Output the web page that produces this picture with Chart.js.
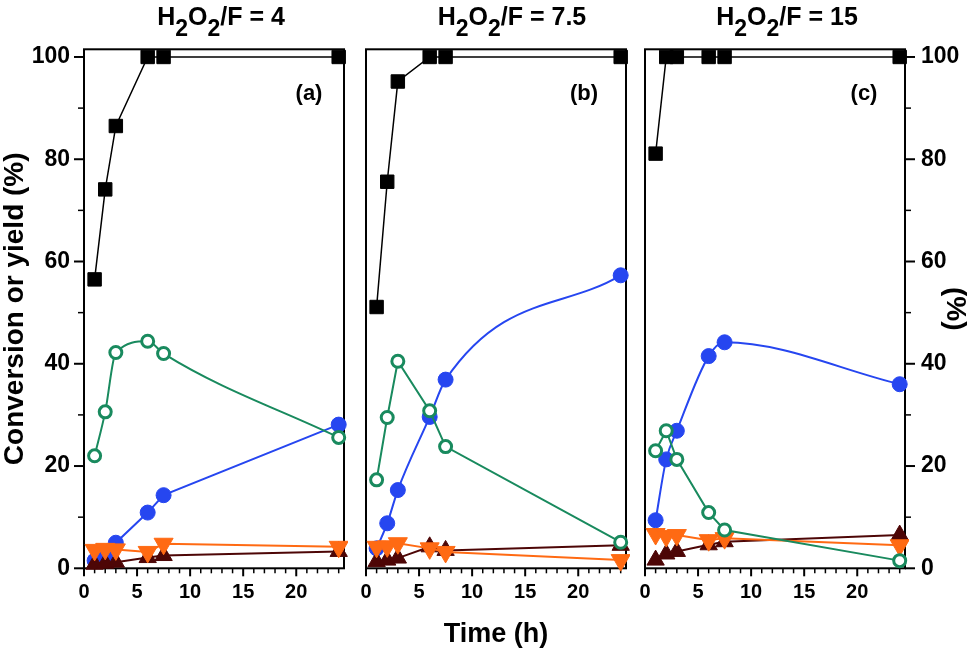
<!DOCTYPE html>
<html>
<head>
<meta charset="utf-8">
<script src="https://cdn.jsdelivr.net/npm/chart.js@4.4.1/dist/chart.umd.min.js"></script>
<style>
html, body { margin: 0; padding: 0; background: #fff; }
#wrap { position: relative; width: 970px; height: 653px; }
#wrap canvas { position: absolute; left: 0; top: 0; }
</style>
</head>
<body>
<div id="wrap">
    <canvas id="panelA" width="970" height="653"></canvas>
    <canvas id="panelB" width="970" height="653"></canvas>
    <canvas id="panelC" width="970" height="653"></canvas>
</div>
<script>
// Data
const times = [1, 2, 3, 6, 7.5, 24];
const xTicks = [0, 5, 10, 15, 20];
const yTicks = [0, 20, 40, 60, 80, 100];
const ratios = ['4', '7.5', '15'];
const panelTags = ['(a)', '(b)', '(c)'];

// (a) H2O2/F = 4
const convA = [56.5, 74.1, 86.5, 100, 100, 100];
const greenA = [22.0, 30.6, 42.2, 44.4, 42.0, 25.6];
const blueA = [1.5, 2.3, 5.0, 10.9, 14.3, 28.1];
const orangeA = [3.6, 3.8, 3.7, 3.2, 4.8, 4.2];
const brownA = [0.8, 1.0, 1.2, 2.1, 2.5, 3.3];

// (b) H2O2/F = 7.5
const convB = [51.1, 75.6, 95.2, 100, 100, 100];
const greenB = [17.3, 29.5, 40.5, 30.8, 23.8, 5.1];
const blueB = [3.9, 8.8, 15.3, 29.6, 36.9, 57.3];
const orangeB = [4.2, 4.3, 4.9, 3.9, 3.2, 1.6];
const brownB = [1.3, 1.6, 2.0, 4.2, 3.5, 4.5];

// (c) H2O2/F = 15
const convC = [81.1, 100, 100, 100, 100, 100];
const greenC = [23.0, 26.9, 21.3, 10.9, 7.5, 1.5];
const blueC = [9.4, 21.3, 26.9, 41.5, 44.2, 36.0];
const orangeC = [6.7, 6.3, 6.5, 5.5, 5.9, 4.5];
const brownC = [1.6, 2.8, 3.3, 4.6, 5.2, 6.5];

const FONT = "'Liberation Sans', Arial, sans-serif";
const BLUE = '#2646f0';
const GREEN = '#198a5e';
const ORANGE = '#ff6a13';
const BROWN = '#4d0606';

function pts(ys) {
    return times.map((t, i) => ({ x: t, y: ys[i] }));
}

// frame, minor/major ticks, title with subscripts, panel tag
const decorPlugin = {
    id: 'panelDecor',
    beforeDatasetsDraw(chart, args, opts) {
        const { ctx, chartArea: a, scales } = chart;
        ctx.save();
        ctx.strokeStyle = '#000';
        ctx.lineWidth = 2;
        ctx.strokeRect(a.left, a.top, a.right - a.left, a.bottom - a.top);

        for (let v = 0; v <= scales.x.max; v++) {
            const px = scales.x.getPixelForValue(v);
            const len = v % 5 === 0 ? 8 : 5;
            ctx.lineWidth = v % 5 === 0 ? 2 : 1.5;
            ctx.beginPath();
            ctx.moveTo(px, a.bottom);
            ctx.lineTo(px, a.bottom + len);
            ctx.stroke();
        }
        if (opts.ySide) {
            for (let v = 0; v <= 100; v += 10) {
                const py = scales.y.getPixelForValue(v);
                const len = v % 20 === 0 ? 10 : 6;
                const x0 = opts.ySide === 'left' ? a.left : a.right;
                const dir = opts.ySide === 'left' ? -1 : 1;
                ctx.lineWidth = v % 20 === 0 ? 2 : 1.5;
                ctx.beginPath();
                ctx.moveTo(x0, py);
                ctx.lineTo(x0 + dir * len, py);
                ctx.stroke();
            }
        }
        ctx.restore();
    },
    afterDraw(chart, args, opts) {
        const ctx = chart.ctx;
        ctx.save();
        ctx.fillStyle = '#000';
        ctx.textBaseline = 'alphabetic';
        ctx.textAlign = 'left';
        const mainFont = 'bold 25px ' + FONT;
        const subFont = 'bold 23px ' + FONT;
        const parts = [['H', 0], ['2', 1], ['O', 0], ['2', 1], ['/F = ' + opts.ratio, 0]];
        let w = 0;
        parts.forEach(p => {
            ctx.font = p[1] ? subFont : mainFont;
            w += ctx.measureText(p[0]).width;
        });
        let x = opts.titleX - w / 2;
        parts.forEach(p => {
            ctx.font = p[1] ? subFont : mainFont;
            ctx.fillText(p[0], x, p[1] ? 36 : 25);
            x += ctx.measureText(p[0]).width;
        });

        ctx.font = 'bold 22px ' + FONT;
        ctx.textAlign = 'center';
        ctx.textBaseline = 'middle';
        ctx.fillText(opts.tag, opts.tagX, 94);
        ctx.restore();
    }
};

function buildPanel(id, cfg) {
    const ctx = document.getElementById(id).getContext('2d');
    const lineBase = { showLine: true, borderWidth: 2, clip: 4 };
    return new Chart(ctx, {
        type: 'scatter',
        data: {
            datasets: [
                Object.assign({}, lineBase, {
                    label: 'Conversion',
                    data: pts(cfg.conv),
                    borderColor: '#000',
                    borderWidth: 1.5,
                    backgroundColor: '#000',
                    pointStyle: 'rect',
                    pointRadius: 9.5,
                    pointBorderWidth: 1
                }),
                Object.assign({}, lineBase, {
                    label: 'Green',
                    data: pts(cfg.green),
                    borderColor: GREEN,
                    backgroundColor: '#fff',
                    pointBorderColor: GREEN,
                    pointStyle: 'circle',
                    pointRadius: 6,
                    pointBorderWidth: 3,
                    cubicInterpolationMode: cfg.smoothGreen ? 'monotone' : 'default',
                    tension: 0
                }),
                Object.assign({}, lineBase, {
                    label: 'Orange',
                    data: pts(cfg.orange),
                    borderColor: ORANGE,
                    backgroundColor: ORANGE,
                    pointStyle: 'triangle',
                    pointRotation: 180,
                    pointRadius: 11,
                    pointBorderWidth: 1
                }),
                Object.assign({}, lineBase, {
                    label: 'Brown',
                    data: pts(cfg.brown),
                    borderColor: BROWN,
                    backgroundColor: BROWN,
                    pointStyle: 'triangle',
                    pointRadius: 10,
                    pointBorderWidth: 1
                }),
                Object.assign({}, lineBase, {
                    label: 'Blue',
                    data: pts(cfg.blue),
                    borderColor: BLUE,
                    backgroundColor: BLUE,
                    pointStyle: 'circle',
                    pointRadius: 7.5,
                    pointBorderWidth: 1,
                    cubicInterpolationMode: cfg.smoothBlue ? 'monotone' : 'default',
                    tension: 0
                })
            ]
        },
        options: {
            responsive: false,
            animation: false,
            events: [],
            layout: { padding: cfg.padding },
            plugins: {
                legend: { display: false },
                tooltip: { enabled: false },
                panelDecor: cfg.decor
            },
            scales: {
                x: {
                    type: 'linear',
                    min: 0,
                    max: 24.5,
                    afterFit: s => { s.height = 84.7; },
                    afterBuildTicks: s => { s.ticks = xTicks.map(v => ({ value: v })); },
                    grid: { display: false, drawTicks: false },
                    border: { display: false },
                    ticks: {
                        color: '#000',
                        padding: 12,
                        font: { family: FONT, size: 20, weight: 'bold' }
                    },
                    title: {
                        display: !!cfg.xTitle,
                        text: cfg.xTitle || '',
                        color: '#000',
                        padding: { top: 0, bottom: 5 },
                        font: { family: FONT, size: 27, weight: 'bold', lineHeight: 1 }
                    }
                },
                y: {
                    type: 'linear',
                    display: !!cfg.ySide,
                    position: cfg.ySide || 'left',
                    min: 0,
                    max: 101.5,
                    afterFit: s => { s.width = cfg.yWidth || 0; },
                    afterBuildTicks: s => { s.ticks = yTicks.map(v => ({ value: v })); },
                    grid: { display: false, drawTicks: false },
                    border: { display: false },
                    ticks: {
                        color: '#000',
                        padding: cfg.ySide === 'right' ? 16 : 14,
                        font: { family: FONT, size: 23, weight: 'bold' }
                    },
                    title: {
                        display: !!cfg.yTitle,
                        text: cfg.yTitle || '',
                        color: '#000',
                        padding: { top: 1, bottom: 0 },
                        font: { family: FONT, size: 28, weight: 'bold', lineHeight: 1 }
                    }
                }
            }
        },
        plugins: [decorPlugin]
    });
}

buildPanel('panelA', {
    conv: convA, green: greenA, blue: blueA, orange: orangeA, brown: brownA,
    smoothGreen: true, smoothBlue: false,
    padding: { left: 0, right: 626, top: 49.3, bottom: 0 },
    ySide: 'left', yWidth: 84, yTitle: 'Conversion or yield (%)',
    decor: { ratio: ratios[0], tag: panelTags[0], titleX: 221, tagX: 309, ySide: 'left' }
});

buildPanel('panelB', {
    conv: convB, green: greenB, blue: blueB, orange: orangeB, brown: brownB,
    smoothGreen: false, smoothBlue: true,
    padding: { left: 366, right: 344, top: 49.3, bottom: 0 },
    xTitle: 'Time (h)',
    decor: { ratio: ratios[1], tag: panelTags[1], titleX: 512, tagX: 584 }
});

buildPanel('panelC', {
    conv: convC, green: greenC, blue: blueC, orange: orangeC, brown: brownC,
    smoothGreen: false, smoothBlue: true,
    padding: { left: 645, right: 0, top: 49.3, bottom: 0 },
    ySide: 'right', yWidth: 65, yTitle: '(%)',
    decor: { ratio: ratios[2], tag: panelTags[2], titleX: 787, tagX: 864, ySide: 'right' }
});
</script>
</body>
</html>
